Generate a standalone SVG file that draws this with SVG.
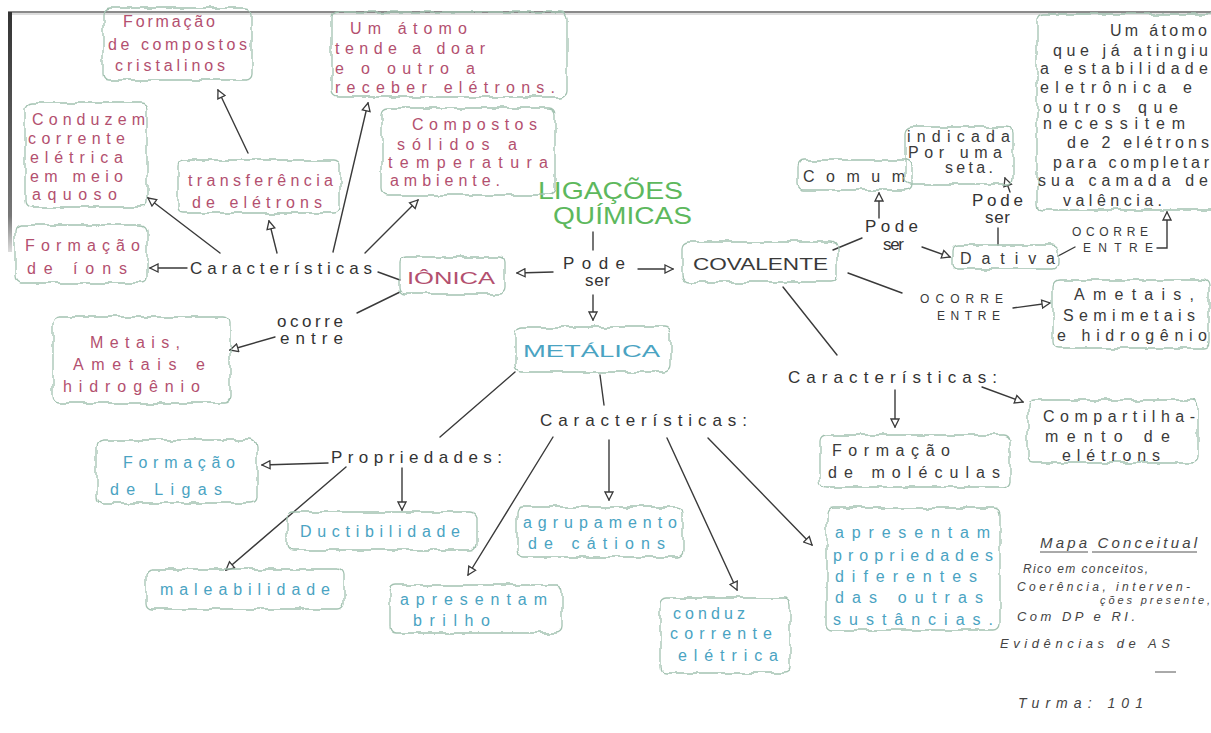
<svg xmlns="http://www.w3.org/2000/svg" width="1211" height="733" viewBox="0 0 1211 733">
  <defs>
    <style>
      text { font-family: "Liberation Sans", Arial, sans-serif; }
      .cloud { fill: none; stroke: #a3c2b1; stroke-width: 1.3; filter: url(#wobble); }
      .ion { fill: #b3506f; font-size: 16px; }
      .met { fill: #4aa3c2; font-size: 16px; }
      .cov { fill: #3a3a3a; font-size: 16px; }
      .lbl { fill: #333333; font-size: 17px; }
      .small { fill: #3a3a3a; font-size: 12px; }
      .note { fill: #444444; font-style: italic; }
      .title { fill: #5db85d; font-size: 24px; }
      .edge { fill: none; stroke: #3a3a3a; stroke-width: 1.4; stroke-linecap: round; }
      .arrow { marker-end: url(#head); }
    </style>
    <!-- gives the box outlines a hand-drawn, wavy edge -->
    <filter id="wobble" x="-15%" y="-25%" width="130%" height="150%">
      <feTurbulence type="fractalNoise" baseFrequency="0.09" numOctaves="1" seed="7" result="noise"/>
      <feDisplacementMap in="SourceGraphic" in2="noise" scale="7" xChannelSelector="R" yChannelSelector="G"/>
    </filter>
    <marker id="head" viewBox="0 0 10 10" refX="9" refY="5" markerWidth="10" markerHeight="10" markerUnits="userSpaceOnUse" orient="auto">
      <path d="M1,1 L9,5 L1,9 Z" fill="#ffffff" stroke="#3a3a3a" stroke-width="1.3"/>
    </marker>
    <linearGradient id="barFade" x1="0" y1="0" x2="0" y2="1">
      <stop offset="0" stop-color="#333333"/>
      <stop offset="0.85" stop-color="#777777"/>
      <stop offset="1" stop-color="#dddddd"/>
    </linearGradient>
  </defs>

  <rect width="1211" height="733" fill="#ffffff"/>

  <!-- page frame -->
  <g id="frame">
    <line x1="8" y1="12" x2="1211" y2="12" stroke="#8a8a8a" stroke-width="2"/>
    <line x1="8" y1="14" x2="1211" y2="14" stroke="#dddddd" stroke-width="2"/>
    <rect x="8" y="12" width="4" height="240" fill="url(#barFade)"/>
  </g>

  <!-- connectors -->
  <g id="connectors">
    <path class="edge" d="M593,232 L593,250"/>
    <path class="edge" d="M400,280 L378,272"/>
    <path class="edge" d="M400,292 L357,313"/>
    <path class="edge" d="M515,372 L440,437"/>
    <path class="edge" d="M600,375 L604,405"/>
    <path class="edge" d="M833,250 L862,238"/>
    <path class="edge" d="M848,273 L902,293"/>
    <path class="edge" d="M783,287 L837,355"/>
    <path class="edge" d="M998,245 L998,228"/>
    <path class="edge" d="M1058,256 L1075,247"/>

    <path class="edge arrow" d="M553,272 L517,273"/>
    <path class="edge arrow" d="M638,269 L673,269"/>
    <path class="edge arrow" d="M593,295 L593,320"/>
    <path class="edge arrow" d="M187,268 L150,268"/>
    <path class="edge arrow" d="M220,253 L148,198"/>
    <path class="edge arrow" d="M277,253 L269,221"/>
    <path class="edge arrow" d="M248,153 L218,90"/>
    <path class="edge arrow" d="M333,252 L368,103"/>
    <path class="edge arrow" d="M365,253 L418,200"/>
    <path class="edge arrow" d="M275,337 L230,350"/>
    <path class="edge arrow" d="M328,463 L262,465"/>
    <path class="edge arrow" d="M402,468 L402,510"/>
    <path class="edge arrow" d="M346,467 L226,570"/>
    <path class="edge arrow" d="M553,437 L468,575"/>
    <path class="edge arrow" d="M609,440 L609,500"/>
    <path class="edge arrow" d="M667,438 L737,590"/>
    <path class="edge arrow" d="M708,438 L812,545"/>
    <path class="edge arrow" d="M879,218 L879,193"/>
    <path class="edge arrow" d="M922,247 L950,257"/>
    <path class="edge arrow" d="M1010,192 L1005,178"/>
    <path class="edge arrow" d="M1157,248 L1167,248 L1167,212"/>
    <path class="edge arrow" d="M1013,308 L1050,303"/>
    <path class="edge arrow" d="M895,390 L895,427"/>
    <path class="edge arrow" d="M982,387 L1023,402"/>
  </g>

  <!-- central concept -->
  <g id="ligacoes">
    <text class="title" x="538" y="199" textLength="145" lengthAdjust="spacingAndGlyphs">LIGAÇÕES</text>
    <text class="title" x="553" y="224" textLength="139" lengthAdjust="spacingAndGlyphs">QUÍMICAS</text>
  </g>
  <g id="pode-ser">
    <text class="lbl" x="563" y="269" textLength="62">Pode</text>
    <text class="lbl" x="585" y="286" textLength="25">ser</text>
  </g>

  <!-- ionic bond -->
  <g id="ionica">
    <rect class="cloud" x="400" y="257" width="105" height="37" rx="6"/>
    <text class="ion" x="407" y="284" font-size="18" textLength="88" lengthAdjust="spacingAndGlyphs">IÔNICA</text>
  </g>
  <g id="ion-caracteristicas">
    <text class="lbl" x="190" y="274" textLength="182">Características</text>
  </g>
  <g id="formacao-ions">
    <rect class="cloud" x="15" y="225" width="132" height="58" rx="6"/>
    <text class="ion" x="25" y="251" textLength="115">Formação</text>
    <text class="ion" x="27" y="274" textLength="100">de íons</text>
  </g>
  <g id="conduzem">
    <rect class="cloud" x="25" y="103" width="122" height="104" rx="6"/>
    <text class="ion" x="32" y="125" textLength="113">Conduzem</text>
    <text class="ion" x="28" y="144" textLength="97">corrente</text>
    <text class="ion" x="30" y="163" textLength="93">elétrica</text>
    <text class="ion" x="30" y="182" textLength="93">em meio</text>
    <text class="ion" x="32" y="200" textLength="85">aquoso</text>
  </g>
  <g id="transferencia">
    <rect class="cloud" x="178" y="160" width="162" height="53" rx="6"/>
    <text class="ion" x="188" y="186" textLength="145">transferência</text>
    <text class="ion" x="192" y="208" textLength="130">de elétrons</text>
  </g>
  <g id="compostos-cristalinos">
    <rect class="cloud" x="103" y="8" width="149" height="72" rx="6"/>
    <text class="ion" x="123" y="27" textLength="92">Formação</text>
    <text class="ion" x="108" y="50" textLength="139">de compostos</text>
    <text class="ion" x="115" y="71" textLength="110">cristalinos</text>
  </g>
  <g id="doar-receber">
    <rect class="cloud" x="332" y="12" width="235" height="85" rx="6"/>
    <text class="ion" x="350" y="34" textLength="117">Um átomo</text>
    <text class="ion" x="335" y="54" textLength="150">tende a doar</text>
    <text class="ion" x="335" y="74" textLength="140">e o outro a</text>
    <text class="ion" x="335" y="93" textLength="220">receber elétrons.</text>
  </g>
  <g id="compostos-solidos">
    <rect class="cloud" x="382" y="108" width="173" height="87" rx="6"/>
    <text class="ion" x="412" y="130" textLength="125">Compostos</text>
    <text class="ion" x="397" y="150" textLength="120">sólidos a</text>
    <text class="ion" x="388" y="168" textLength="160">temperatura</text>
    <text class="ion" x="390" y="186" textLength="110">ambiente.</text>
  </g>
  <g id="ion-ocorre">
    <text class="lbl" x="277" y="327" font-size="14" textLength="66">ocorre</text>
    <text class="lbl" x="280" y="344" font-size="14" textLength="63">entre</text>
  </g>
  <g id="metais-ametais">
    <rect class="cloud" x="53" y="317" width="177" height="86" rx="6"/>
    <text class="ion" x="90" y="348" textLength="90">Metais,</text>
    <text class="ion" x="73" y="370" textLength="132">Ametais e</text>
    <text class="ion" x="63" y="392" textLength="137">hidrogênio</text>
  </g>

  <!-- metallic bond -->
  <g id="metalica">
    <rect class="cloud" x="515" y="327" width="155" height="45" rx="6"/>
    <text class="met" x="523" y="357" font-size="20" textLength="137" lengthAdjust="spacingAndGlyphs">METÁLICA</text>
  </g>
  <g id="propriedades">
    <text class="lbl" x="331" y="463" textLength="171">Propriedades:</text>
  </g>
  <g id="ligas">
    <rect class="cloud" x="97" y="440" width="160" height="63" rx="6"/>
    <text class="met" x="123" y="468" textLength="112">Formação</text>
    <text class="met" x="110" y="495" textLength="112">de Ligas</text>
  </g>
  <g id="ductibilidade">
    <rect class="cloud" x="287" y="512" width="190" height="38" rx="6"/>
    <text class="met" x="300" y="537" textLength="160">Ductibilidade</text>
  </g>
  <g id="maleabilidade">
    <rect class="cloud" x="146" y="569" width="198" height="40" rx="6"/>
    <text class="met" x="160" y="595" textLength="170">maleabilidade</text>
  </g>
  <g id="met-caracteristicas">
    <text class="lbl" x="540" y="426" textLength="207">Características:</text>
  </g>
  <g id="brilho">
    <rect class="cloud" x="390" y="585" width="172" height="48" rx="6"/>
    <text class="met" x="400" y="605" textLength="147">apresentam</text>
    <text class="met" x="413" y="626" textLength="77">brilho</text>
  </g>
  <g id="agrupamento">
    <rect class="cloud" x="517" y="507" width="166" height="50" rx="6"/>
    <text class="met" x="523" y="528" textLength="154">agrupamento</text>
    <text class="met" x="528" y="549" textLength="137">de cátions</text>
  </g>
  <g id="conduz">
    <rect class="cloud" x="660" y="598" width="130" height="75" rx="6"/>
    <text class="met" x="673" y="619" textLength="72">conduz</text>
    <text class="met" x="670" y="639" textLength="102">corrente</text>
    <text class="met" x="678" y="661" textLength="100">elétrica</text>
  </g>
  <g id="propriedades-diferentes">
    <rect class="cloud" x="827" y="508" width="173" height="122" rx="6"/>
    <text class="met" x="835" y="538" textLength="155">apresentam</text>
    <text class="met" x="833" y="561" textLength="160">propriedades</text>
    <text class="met" x="835" y="582" textLength="142">diferentes</text>
    <text class="met" x="835" y="603" textLength="148">das outras</text>
    <text class="met" x="833" y="625" textLength="160">sustâncias.</text>
  </g>

  <!-- covalent bond -->
  <g id="covalente">
    <rect class="cloud" x="682" y="242" width="155" height="40" rx="6"/>
    <text class="cov" x="693" y="270" font-size="20" textLength="135" lengthAdjust="spacingAndGlyphs">COVALENTE</text>
  </g>
  <g id="cov-pode-ser">
    <text class="lbl" x="865" y="232" font-size="16" textLength="53">Pode</text>
    <text class="lbl" x="883" y="250" font-size="16" textLength="21">ser</text>
  </g>
  <g id="comum">
    <rect class="cloud" x="798" y="160" width="114" height="30" rx="6"/>
    <text class="cov" x="803" y="182" font-size="17" textLength="102">Comum</text>
  </g>
  <g id="dativa">
    <rect class="cloud" x="953" y="245" width="105" height="24" rx="5"/>
    <text class="cov" x="960" y="264" font-size="18" textLength="95">Dativa</text>
  </g>
  <g id="dativa-pode-ser">
    <text class="lbl" x="972" y="206" font-size="14" textLength="51">Pode</text>
    <text class="lbl" x="985" y="223" font-size="14" textLength="25">ser</text>
  </g>
  <g id="indicada-seta">
    <rect class="cloud" x="905" y="127" width="108" height="57" rx="6"/>
    <text class="cov" x="907" y="142" font-size="15" textLength="103">indicada</text>
    <text class="cov" x="908" y="158" font-size="15" textLength="94">Por uma</text>
    <text class="cov" x="945" y="173" font-size="15" textLength="48">seta.</text>
  </g>
  <g id="dativa-ocorre">
    <text class="small" x="1072" y="236" textLength="76">OCORRE</text>
    <text class="small" x="1083" y="252" textLength="70">ENTRE</text>
  </g>
  <g id="estabilidade">
    <rect class="cloud" x="1037" y="14" width="180" height="196" rx="6"/>
    <text class="cov" x="1110" y="36" font-size="15" textLength="97">Um átomo</text>
    <text class="cov" x="1053" y="56" font-size="15" textLength="155">que já atingiu</text>
    <text class="cov" x="1040" y="74" font-size="15" textLength="168">a estabilidade</text>
    <text class="cov" x="1040" y="93" font-size="15" textLength="152">eletrônica e</text>
    <text class="cov" x="1043" y="113" font-size="15" textLength="135">outros que</text>
    <text class="cov" x="1043" y="129" font-size="15" textLength="142">necessitem</text>
    <text class="cov" x="1067" y="148" font-size="15" textLength="142">de 2 elétrons</text>
    <text class="cov" x="1053" y="168" font-size="15" textLength="156">para completar</text>
    <text class="cov" x="1038" y="186" font-size="15" textLength="170">sua camada de</text>
    <text class="cov" x="1063" y="206" font-size="15" textLength="99">valência.</text>
  </g>
  <g id="cov-ocorre">
    <text class="small" x="920" y="303" font-size="13" textLength="83">OCORRE</text>
    <text class="small" x="937" y="320" font-size="13" textLength="63">ENTRE</text>
  </g>
  <g id="ametais-semimetais">
    <rect class="cloud" x="1053" y="280" width="156" height="68" rx="6"/>
    <text class="cov" x="1074" y="300" textLength="120">Ametais,</text>
    <text class="cov" x="1063" y="321" textLength="132">Semimetais</text>
    <text class="cov" x="1057" y="341" textLength="150">e hidrogênio</text>
  </g>
  <g id="cov-caracteristicas">
    <text class="lbl" x="788" y="383" textLength="209">Características:</text>
  </g>
  <g id="moleculas">
    <rect class="cloud" x="820" y="435" width="190" height="52" rx="6"/>
    <text class="cov" x="832" y="456" textLength="118">Formação</text>
    <text class="cov" x="828" y="478" textLength="172">de moléculas</text>
  </g>
  <g id="compartilhamento">
    <rect class="cloud" x="1028" y="400" width="170" height="63" rx="6"/>
    <text class="cov" x="1043" y="422" textLength="152">Compartilha-</text>
    <text class="cov" x="1045" y="442" textLength="125">mento de</text>
    <text class="cov" x="1062" y="461" textLength="98">elétrons</text>
  </g>

  <!-- handwritten notes -->
  <g id="notes">
    <text class="note" x="1040" y="548" font-size="15" textLength="157">Mapa Conceitual</text>
    <line x1="1040" y1="552" x2="1088" y2="552" stroke="#555" stroke-width="1"/>
    <line x1="1092" y1="552" x2="1197" y2="552" stroke="#555" stroke-width="1"/>
    <text class="note" x="1023" y="573" font-size="12" textLength="125">Rico em conceitos,</text>
    <text class="note" x="1017" y="591" font-size="12" textLength="173">Coerência, interven-</text>
    <text class="note" x="1100" y="604" font-size="11" textLength="110">ções presente,</text>
    <text class="note" x="1017" y="621" font-size="13" textLength="118">Com DP e RI.</text>
    <text class="note" x="1000" y="648" font-size="13" textLength="170">Evidências de AS</text>
    <line x1="1155" y1="672" x2="1176" y2="672" stroke="#555" stroke-width="1"/>
    <text class="note" x="1018" y="708" font-size="14" textLength="125">Turma: 101</text>
  </g>
</svg>
